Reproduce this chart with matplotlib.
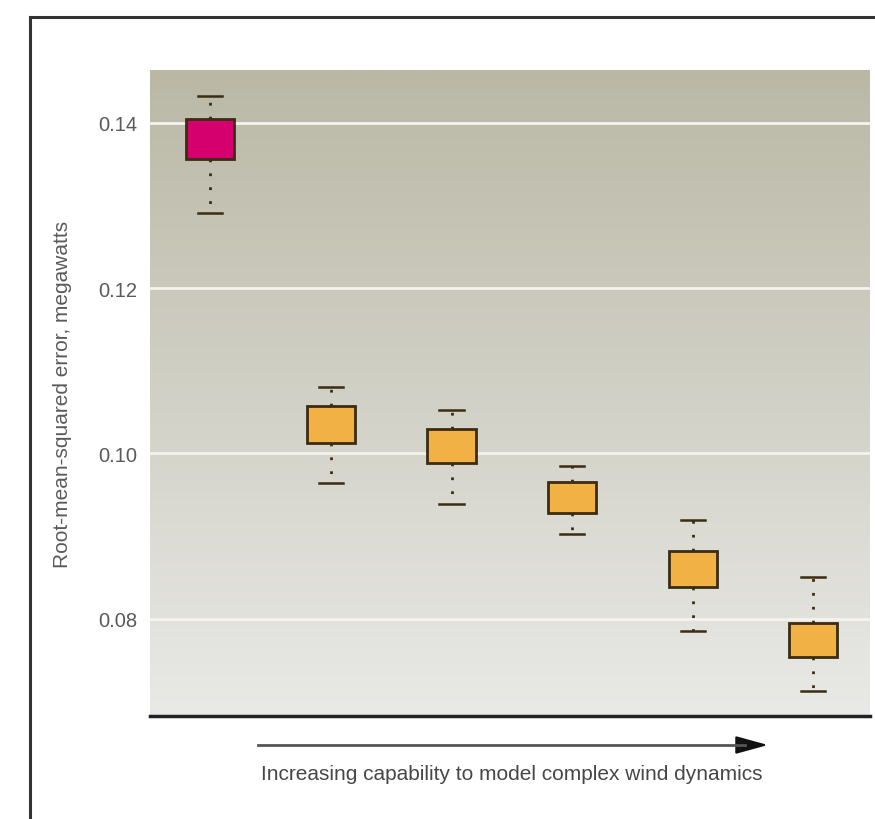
import numpy as np
import matplotlib.pyplot as plt
from matplotlib.lines import Line2D

# box statistics (megawatts)
positions = [1, 2, 3, 4, 5, 6]
whisker_hi = [0.1433, 0.1080, 0.1053, 0.0985, 0.0919, 0.0850]
box_hi = [0.1405, 0.1057, 0.1029, 0.0965, 0.0882, 0.0795]
medians = [0.1380, 0.1035, 0.1008, 0.0946, 0.0860, 0.0774]
box_lo = [0.1356, 0.1012, 0.0988, 0.0928, 0.0838, 0.0753]
whisker_lo = [0.1291, 0.0964, 0.0939, 0.0902, 0.0785, 0.0712]
box_colors = ["#d5006d", "#f2b144", "#f2b144", "#f2b144", "#f2b144", "#f2b144"]
yticks = [0.08, 0.10, 0.12, 0.14]

plt.rcParams["font.family"] = ["Liberation Sans", "DejaVu Sans"]

fig = plt.figure(figsize=(8.75, 8.2), dpi=100)
ax = fig.add_axes([150 / 875, 1 - 717 / 820, 720 / 875, 646 / 820])

ylim = (0.0682, 0.1464)
xlim = (0.5, 6.47)

# background gradient: olive-grey at the top fading to light grey
top = np.array([186, 184, 165]) / 255
bottom = np.array([233, 233, 231]) / 255
t = np.linspace(0, 1, 256)[:, None]
grad = (top * (1 - t) + bottom * t)[:, None, :]
ax.imshow(grad, extent=[xlim[0], xlim[1], ylim[0], ylim[1]], aspect="auto",
          origin="upper", zorder=0)

for y in yticks:
    ax.axhline(y, color="#f4f3ee", lw=2, zorder=1)

stats = []
for i in range(len(positions)):
    stats.append(dict(whislo=whisker_lo[i], q1=box_lo[i], med=medians[i],
                      q3=box_hi[i], whishi=whisker_hi[i], fliers=[]))

bp = ax.bxp(stats, positions=positions, widths=0.4, patch_artist=True,
            showfliers=False, capwidths=0.2,
            boxprops=dict(edgecolor="#3b2c12", linewidth=2),
            whiskerprops=dict(color="#3b2c12", linewidth=2, linestyle=(0, (1, 4))),
            capprops=dict(color="#3b2c12", linewidth=1.8),
            medianprops=dict(visible=False))
for patch, c in zip(bp["boxes"], box_colors):
    patch.set_facecolor(c)
    patch.set_zorder(3)

ax.set_xlim(*xlim)
ax.set_ylim(*ylim)
ax.set_xticks([])
ax.set_yticks(yticks)
ax.set_yticklabels([f"{v:.2f}" for v in yticks], color="#5a5a5a", fontsize=14.5)
ax.tick_params(axis="y", length=0, pad=9)
for s in ["left", "right", "top"]:
    ax.spines[s].set_visible(False)
ax.spines["bottom"].set_linewidth(2.5)
ax.spines["bottom"].set_color("#222222")
ax.spines["bottom"].set_zorder(5)

ax.set_ylabel("Root-mean-squared error, megawatts", fontsize=15, color="#5a5a5a")
ax.yaxis.set_label_coords(-0.108, 0.5)

# arrow and caption under the axis
ay = 1 - 746 / 820
fig.add_artist(Line2D([258 / 875, 745 / 875], [ay, ay], color="#555555", lw=2))
ax.annotate("", xy=(768 / 875, ay), xytext=(740 / 875, ay), xycoords="figure fraction",
            arrowprops=dict(arrowstyle="-|>,head_length=2.0,head_width=0.55",
                            color="#111111", lw=1.5, shrinkA=0, shrinkB=0))
fig.text(512 / 875, 1 - 775 / 820, "Increasing capability to model complex wind dynamics",
         ha="center", va="center", fontsize=15, color="#474747")

# outer frame
fig.add_artist(Line2D([30 / 875, 30 / 875], [0, 1 - 18 / 820], color="#333333", lw=2.2))
fig.add_artist(Line2D([30 / 875, 1], [1 - 18 / 820, 1 - 18 / 820], color="#333333", lw=2.2))

fig.savefig("out.png", dpi=100)
